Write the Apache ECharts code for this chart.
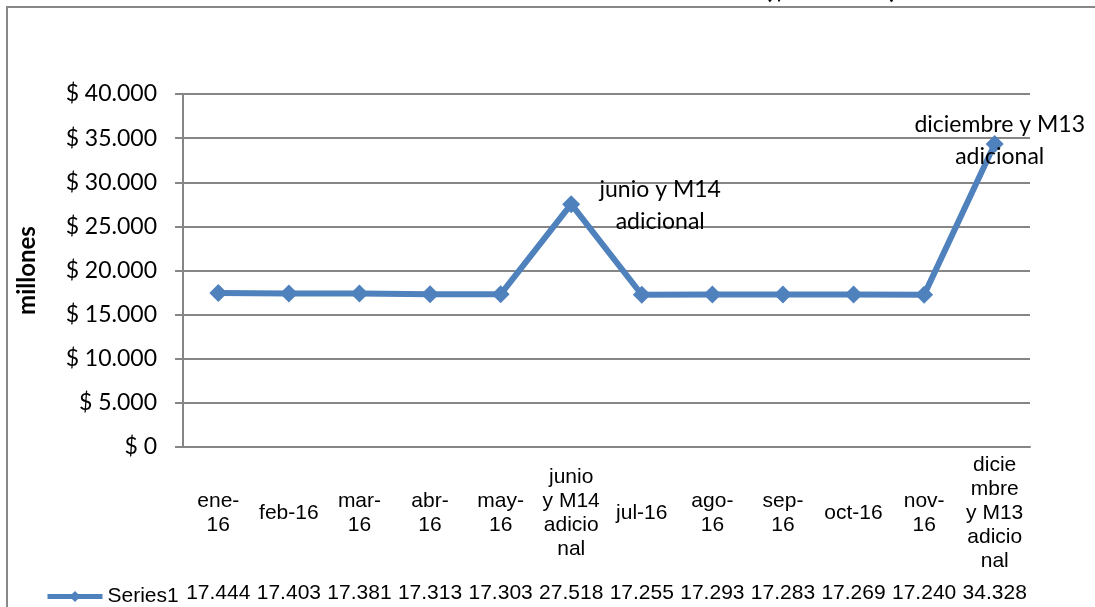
<!DOCTYPE html>
<html>
<head>
<meta charset="utf-8">
<script src="https://cdn.jsdelivr.net/npm/echarts@6/dist/echarts.min.js"></script>
<style>
    html, body { margin: 0; padding: 0; background: #fff; }
    #chart { width: 1095px; height: 607px; }
</style>
</head>
<body>
<div id="chart"></div>
<script>
    // meses (texto tal como se parte en la tabla de datos)
    var categories = ['ene-\n16', 'feb-16', 'mar-\n16', 'abr-\n16', 'may-\n16', 'junio\ny M14\nadicio\nnal',
        'jul-16', 'ago-\n16', 'sep-\n16', 'oct-16', 'nov-\n16', 'dicie\nmbre\ny M13\nadicio\nnal'];
    // nomina en $ millones
    var series1 = [17444, 17403, 17381, 17313, 17303, 27518, 17255, 17293, 17283, 17269, 17240, 34328];
    var notes = ['', '', '', '', '', 'junio y M14\nadicional', '', '', '', '', '', 'diciembre y M13\nadicional'];
    var yTicks = [0, 5000, 10000, 15000, 20000, 25000, 30000, 35000, 40000];

    function miles(v) {
        return String(v).replace(/\B(?=(\d{3})+(?!\d))/g, '.');
    }

    var noteOffset = {5: [89, 1], 11: [5, -3]};

    var chart = echarts.init(document.getElementById('chart'));
    chart.setOption({
        animation: false,
        title: {
            text: 'GRÁFICA No. 1 NÓMINA MENSUAL AÑO 2016 ($ millones)',
            left: 'center',
            top: -28,
            textStyle: {fontFamily: 'Lato', fontSize: 26, fontWeight: 'bold', color: '#000'}
        },
        graphic: [{
            type: 'rect',
            shape: {x: 7, y: 7, width: 1200, height: 800},
            style: {fill: null, stroke: '#888', lineWidth: 2}
        }],
        legend: {
            data: ['Series1'],
            left: 40,
            top: 581,
            itemWidth: 55,
            itemHeight: 14,
            lineStyle: {width: 5},
            textStyle: {fontFamily: 'Liberation Sans', fontSize: 21, color: '#000'}
        },
        grid: {left: 183, right: 65, top: 94, bottom: 160},
        xAxis: [{
            type: 'category',
            data: categories,
            boundaryGap: true,
            axisLine: {lineStyle: {color: '#868686', width: 2}},
            axisTick: {show: false},
            axisLabel: {
                interval: 0,
                margin: 66,
                verticalAlign: 'middle',
                lineHeight: 24,
                fontFamily: 'Liberation Sans',
                fontSize: 21,
                color: '#000'
            }
        }, {
            type: 'category',
            data: categories,
            position: 'bottom',
            axisLine: {show: false},
            axisTick: {show: false},
            axisLabel: {
                interval: 0,
                margin: 146,
                verticalAlign: 'middle',
                fontFamily: 'Liberation Sans',
                fontSize: 21,
                color: '#000',
                formatter: function (v, i) { return miles(series1[i]); }
            }
        }],
        yAxis: {
            type: 'value',
            min: yTicks[0],
            max: yTicks[yTicks.length - 1],
            interval: yTicks[1] - yTicks[0],
            name: 'millones',
            nameLocation: 'middle',
            nameGap: 144,
            nameTextStyle: {fontFamily: 'Lato', fontSize: 24, fontWeight: 'bold', color: '#000'},
            axisLine: {show: true, lineStyle: {color: '#868686', width: 2}},
            axisTick: {show: true, length: 8, lineStyle: {color: '#868686', width: 2}},
            splitLine: {lineStyle: {color: '#868686', width: 2}},
            axisLabel: {
                margin: 26,
                fontFamily: 'Lato',
                fontSize: 23,
                color: '#000',
                formatter: function (v) { return '$ ' + miles(v); }
            }
        },
        series: [{
            name: 'Series1',
            type: 'line',
            symbol: 'diamond',
            symbolSize: 18,
            itemStyle: {color: '#4F81BD'},
            lineStyle: {color: '#4F81BD', width: 6},
            data: series1.map(function (v, i) {
                if (!notes[i]) return v;
                return {
                    value: v,
                    label: {
                        show: true,
                        position: 'inside',
                        offset: noteOffset[i],
                        formatter: notes[i],
                        align: 'center',
                        lineHeight: 32,
                        fontFamily: 'Lato',
                        fontSize: 23,
                        color: '#000'
                    }
                };
            })
        }]
    });
</script>
</body>
</html>
